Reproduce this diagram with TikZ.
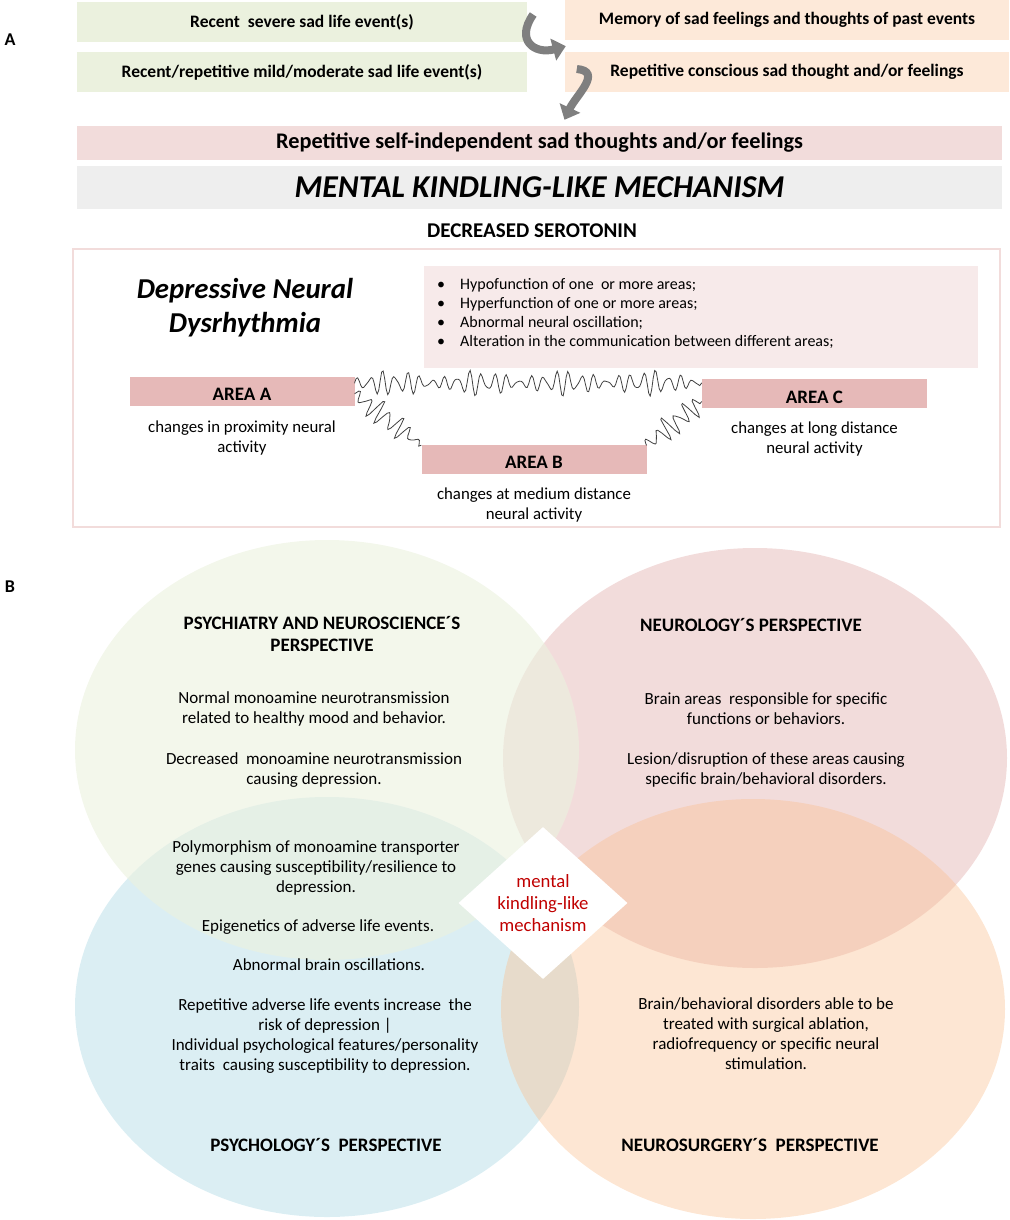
\documentclass[tikz,border=0pt]{standalone}
\usepackage{fontspec}
\setmainfont{Carlito}
\usetikzlibrary{arrows.meta, positioning, calc, shapes.geometric, decorations}
\definecolor{OliveLight}{HTML}{EBF1DE}
\definecolor{PeachLight}{HTML}{FDE9D9}
\definecolor{RoseBar}{HTML}{F2DCDB}
\definecolor{GrayBar}{HTML}{EEEEEE}
\definecolor{RoseArea}{HTML}{E6B9B8}
\definecolor{RoseList}{HTML}{F7EAEA}
\definecolor{ArrowGray}{HTML}{7F7F7F}
\definecolor{KRed}{HTML}{C00000}
\definecolor{VennBlue}{HTML}{B7DEE8}
\definecolor{VennOrange}{HTML}{FAC090}

% irregular oscillation drawn along a path
\pgfdeclaredecoration{eeg}{initial}{%
  \state{initial}[width=1.5pt]{%
    \pgfmathsetmacro\eegoff{(3.5+9*abs(sin(\pgfdecoratedcompleteddistance*2.1+10)))*(0.75*sin(\pgfdecoratedcompleteddistance*29)+0.35*sin(\pgfdecoratedcompleteddistance*41+30))}%
    \pgfpathlineto{\pgfpoint{0pt}{\eegoff pt}}%
  }%
  \state{final}{\pgfpathlineto{\pgfpointdecoratedpathlast}}%
}

\tikzset{
  evbox/.style={minimum width=450, minimum height=40, inner sep=0,
    font=\fontsize{17.5}{20}\selectfont\bfseries},
  bar/.style={minimum width=925, inner sep=0},
  areabox/.style={fill=RoseArea, minimum width=225, minimum height=29, inner sep=0,
    text height=19pt, text depth=0pt, font=\fontsize{19}{20}\selectfont\bfseries},
  areadesc/.style={align=center, inner sep=0, font=\fontsize{16.8}{20}\selectfont},
  curl/.style={draw=ArrowGray, line width=8pt, -{Triangle[length=13pt, width=22pt]}},
  wave/.style={draw=black!75, line width=0.8pt, decorate, decoration=eeg},
  venntxt/.style={align=center, inner sep=0, font=\fontsize{17}{20}\selectfont},
  venntitle/.style={align=center, inner sep=0, font=\fontsize{19}{22}\selectfont\bfseries},
  panel/.style={font=\fontsize{18}{20}\selectfont\bfseries}
}

\begin{document}
\begin{tikzpicture}[x=1pt, y=1pt]
  % --- GEOMETRIC VARIABLES ---
  \def\VennRx{252}
  \def\VennRy{210}
  \useasboundingbox (0,0) rectangle (1009,-1220);

  % =====================================================================
  % A. FROM LIFE EVENTS TO THE KINDLING-LIKE MECHANISM
  % =====================================================================
  \node[panel] (labA) at (10,-40) {A};

  % Life events
  \node[evbox, fill=OliveLight] (severe) at (302,-22.5) {Recent\ \ severe sad life event(s)};
  \node[evbox, fill=OliveLight] (mild) at (302,-72) {Recent/repetitive mild/moderate sad life event(s)};
  % Thoughts and feelings
  \node[evbox, fill=PeachLight, minimum width=444] (memory) at (787,-20) {Memory of sad feelings and thoughts of past events};
  \node[evbox, fill=PeachLight, minimum width=444] (conscious) at (787,-72) {Repetitive conscious sad thought and/or feelings};

  % Bars
  \node[bar, fill=RoseBar, minimum height=34, font=\fontsize{22.3}{26}\selectfont\bfseries]
    (selfbar) at (539.5,-143) {Repetitive self-independent sad thoughts and/or feelings};
  \node[bar, fill=GrayBar, minimum height=43, font=\fontsize{31.8}{36}\selectfont\bfseries\itshape]
    (mechbar) at (539.5,-187.5) {MENTAL KINDLING-LIKE MECHANISM};
  \node[font=\fontsize{21}{24}\selectfont\bfseries] (serotonin) at (532,-231) {DECREASED SEROTONIN};

  % Curved arrows
  \draw[curl] ([xshift=6pt,yshift=8pt]severe.east) to[out=235, in=195, looseness=1.8] ([xshift=1pt,yshift=-6pt]memory.south west);
  \draw[curl] ([xshift=12pt,yshift=3pt]conscious.west) to[out=-5, in=65, looseness=1.3] ([xshift=25pt,yshift=6pt]selfbar.north);

  % =====================================================================
  % DEPRESSIVE NEURAL DYSRHYTHMIA
  % =====================================================================
  \node[draw=RoseBar, line width=1.2pt, minimum width=927, minimum height=278, inner sep=0]
    (dysbox) at (536.5,-388) {};
  \node[align=center, font=\fontsize{28.8}{34}\selectfont\bfseries\itshape] (dystitle) at (245,-308)
    {Depressive Neural\\Dysrhythmia};

  % List of alterations
  \node[fill=RoseList, minimum width=554, minimum height=102, inner sep=0] (listbox) at (701,-316.5) {};
  \node[anchor=west, align=left, inner sep=0, font=\fontsize{16}{19}\selectfont] (alterations) at (437,-313.5) {%
    \makebox[23pt][l]{\textbullet}Hypofunction of one\ \ or more areas;\\
    \makebox[23pt][l]{\textbullet}Hyperfunction of one or more areas;\\
    \makebox[23pt][l]{\textbullet}Abnormal neural oscillation;\\
    \makebox[23pt][l]{\textbullet}Alteration in the communication between different areas;};

  % Areas
  \node[areabox] (areaA) at (242,-391) {AREA A};
  \node[areabox] (areaB) at (534,-459) {AREA B};
  \node[areabox] (areaC) at (814.5,-393.5) {AREA C};
  \node[areadesc, below=15pt of areaA] (descA) {changes in proximity neural\\activity};
  \node[areadesc, below=14pt of areaB] (descB) {changes at medium distance\\neural activity};
  \node[areadesc, below=13pt of areaC] (descC) {changes at long distance\\neural activity};

  % Oscillations between areas
  \draw[wave] ([yshift=-7pt]areaA.north east) -- ([yshift=-4pt]areaC.north west);
  \draw[wave] ([yshift=-3pt]areaA.east) -- ([yshift=-1pt]areaB.north west);
  \draw[wave] ([yshift=-1pt]areaB.north east) -- ([yshift=-8pt]areaC.west);

  % =====================================================================
  % B. FOUR PERSPECTIVES
  % =====================================================================
  \node[panel] (labB) at (10,-587) {B};

  % Ellipses (blue, pink, orange, green: order fixes the overlap colours)
  \fill[VennBlue, fill opacity=.5] (327,-1007) ellipse [x radius=\VennRx, y radius=\VennRy];
  \fill[RoseArea, fill opacity=.5] (755,-758) ellipse [x radius=\VennRx, y radius=\VennRy];
  \fill[VennOrange, fill opacity=.4] (753,-1009) ellipse [x radius=\VennRx, y radius=\VennRy];
  \fill[OliveLight, fill opacity=.6] (327,-750) ellipse [x radius=\VennRx, y radius=\VennRy];

  % Psychiatry and neuroscience
  \node[venntitle] (psytitle) at (322,-634) {PSYCHIATRY AND NEUROSCIENCE´S\\PERSPECTIVE};
  \node[venntxt] (psyA) at (314,-709) {Normal monoamine neurotransmission\\related to healthy mood and behavior.};
  \node[venntxt] (psyB) at (314,-770) {Decreased\ \ monoamine neurotransmission\\causing depression.};
  \node[venntxt] (psyC) at (316,-868) {Polymorphism of monoamine transporter\\genes causing susceptibility/resilience to\\depression.};
  \node[venntxt] (psyD) at (318,-927) {Epigenetics of adverse life events.};

  % Neurology
  \node[venntitle] (neutitle) at (751,-625) {NEUROLOGY´S PERSPECTIVE};
  \node[venntxt] (neuA) at (766,-709) {Brain areas\ \ responsible for specific\\functions or behaviors.};
  \node[venntxt] (neuB) at (766,-770) {Lesion/disruption of these areas causing\\specific brain/behavioral disorders.};

  % Psychology
  \node[venntxt] (pslA) at (329,-965) {Abnormal brain oscillations.};
  \node[venntxt] (pslB) at (325,-1036.5) {Repetitive adverse life events increase\ \ the\\risk of depression |\\Individual psychological features/personality\\traits\ \ causing susceptibility to depression.};
  \node[venntitle] (psltitle) at (326,-1145) {PSYCHOLOGY´S\ \ PERSPECTIVE};

  % Neurosurgery
  \node[venntxt] (nsgA) at (766,-1034) {Brain/behavioral disorders able to be\\treated with surgical ablation,\\radiofrequency or specific neural\\stimulation.};
  \node[venntitle] (nsgtitle) at (750,-1145) {NEUROSURGERY´S\ \ PERSPECTIVE};

  % Shared core
  \node[diamond, fill=white, minimum width=169, minimum height=152, inner sep=0, align=center,
    text=KRed, font=\fontsize{18.7}{22}\selectfont] (core) at (543,-903)
    {mental\\kindling-like\\mechanism};

\end{tikzpicture}
\end{document}
